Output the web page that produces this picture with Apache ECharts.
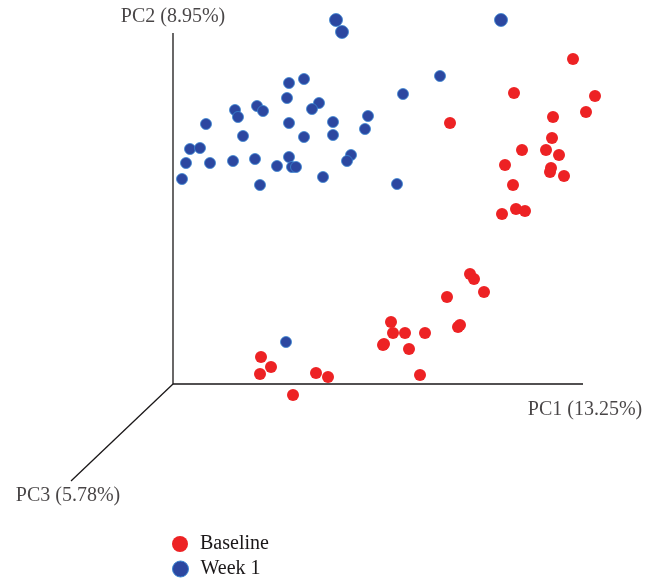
<!DOCTYPE html>
<html>
<head>
<meta charset="utf-8">
<script src="https://cdn.jsdelivr.net/npm/echarts@6/dist/echarts.min.js"></script>
<style>
  html, body { margin: 0; padding: 0; background: #fff; }
  #chart { width: 645px; height: 582px; }
</style>
</head>
<body>
<div id="chart"></div>
<script>
// projected PCA scores (screen-like units)
const baseline = [
  [573, 59], [514, 93], [595, 96], [586, 112], [553, 117], [450, 123],
  [552, 138], [522, 150], [546, 150], [559, 155], [505, 165], [551, 168],
  [550, 172], [564, 176], [513, 185], [516, 209], [525, 211], [502, 214],
  [470, 274], [474, 279], [484, 292], [447, 297], [458, 327], [460, 325],
  [391, 322], [393, 333], [405, 333], [425, 333], [383, 345], [384, 344],
  [409, 349], [420, 375], [261, 357], [271, 367], [260, 374], [316, 373],
  [328, 377], [293, 395]
]
const week1 = [
  [440, 76], [304, 79], [289, 83], [403, 94], [287, 98], [319, 103],
  [312, 109], [257, 106], [263, 111], [235, 110], [238, 117], [206, 124],
  [289, 123], [333, 122], [368, 116], [365, 129], [243, 136], [304, 137],
  [333, 135], [190, 149], [200, 148], [186, 163], [210, 163], [233, 161],
  [255, 159], [289, 157], [277, 166], [292, 167], [296, 167], [351, 155],
  [347, 161], [182, 179], [260, 185], [323, 177], [397, 184], [286, 342]
]
const week1Big = [[336, 20], [342, 32], [501, 20]]

const axisFrame = [[173, 33], [173, 384], [583, 384]]
const axisDepth = [[173, 384], [71, 481]]
const axisNames = [
  { name: 'PC2 (8.95%)', value: [173, 17] },
  { name: 'PC1 (13.25%)', value: [585, 410] },
  { name: 'PC3 (5.78%)', value: [68, 496] }
]

const serif = '"Liberation Serif", "DejaVu Serif", serif'
const ink = '#1a1718'
const red = '#ed2224'
const blue = '#2c47a0'
const blueEdge = '#3a86d2'

const legendBase = {
  left: 172,
  padding: 0,
  itemWidth: 16,
  itemHeight: 16,
  icon: 'circle',
  textStyle: { fontFamily: serif, fontSize: 20, color: ink, padding: [0, 0, 0, 7] }
}

const chart = echarts.init(document.getElementById('chart'))
chart.setOption({
  animation: false,
  grid: { left: 0, top: 0, width: 645, height: 582 },
  xAxis: { type: 'value', min: 0, max: 645, show: false },
  yAxis: { type: 'value', min: 0, max: 582, inverse: true, show: false },
  legend: [
    Object.assign({}, legendBase, {
      top: 534,
      data: [{ name: 'Baseline', itemStyle: { color: red } }]
    }),
    Object.assign({}, legendBase, {
      top: 559,
      data: [{ name: 'Week 1', itemStyle: { color: blue, borderColor: blueEdge, borderWidth: 1 } }]
    })
  ],
  series: [
    {
      type: 'line', data: axisFrame, symbol: 'none', silent: true,
      lineStyle: { color: ink, width: 1.3 }
    },
    {
      type: 'line', data: axisDepth, symbol: 'none', silent: true,
      lineStyle: { color: ink, width: 1.3 }
    },
    {
      type: 'scatter', data: axisNames, symbolSize: 0, silent: true,
      label: {
        show: true, position: 'inside', formatter: '{b}',
        fontFamily: serif, fontSize: 20, color: ink
      }
    },
    {
      name: 'Baseline', type: 'scatter', data: baseline, symbolSize: 12,
      itemStyle: { color: red, opacity: 1 }
    },
    {
      name: 'Week 1', type: 'scatter', data: week1, symbolSize: 11,
      itemStyle: { color: blue, borderColor: blueEdge, borderWidth: 0.8, opacity: 1 }
    },
    {
      name: 'Week 1', type: 'scatter', data: week1Big, symbolSize: 13,
      itemStyle: { color: blue, borderColor: blueEdge, borderWidth: 0.8, opacity: 1 }
    }
  ]
})
</script>
</body>
</html>
